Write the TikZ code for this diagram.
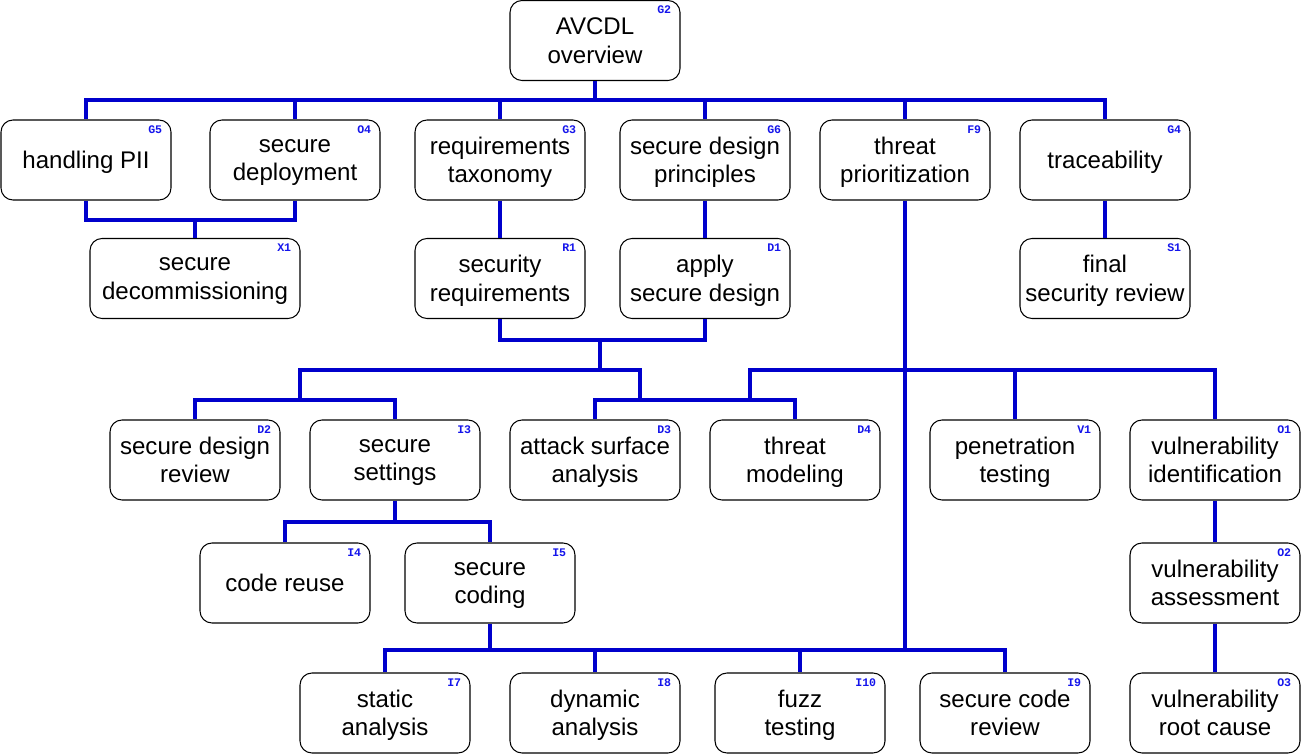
\documentclass[tikz,border=0pt]{standalone}
\usepackage{fontspec}
\setmainfont{Liberation Sans}
\newfontfamily\tagfont{Liberation Mono}
\definecolor{busblue}{RGB}{0,0,204}
\definecolor{tagblue}{RGB}{20,20,235}
\begin{document}
\begin{tikzpicture}[
  box/.style={draw, line width=0.6pt, rounded corners=0.24cm, align=center, minimum width=3.4cm, minimum height=1.6cm, inner sep=0pt, text depth=-1.5pt, font=\fontsize{13.7}{16.2}\selectfont},
  tag/.style={anchor=north east, inner sep=0pt, xshift=-0.18cm, yshift=-0.13cm, text height=4pt, text depth=0pt, text=tagblue, font=\tagfont\bfseries\fontsize{6.6}{7}\selectfont},
  bus/.style={draw=busblue, line width=0.075cm}]
\useasboundingbox (0,0) rectangle (26.02,-15.08);
% top
\node[box, label={[tag]north east:G2}] (overview) at (11.9,-0.81) {AVCDL\\overview};
% row 1
\node[box, label={[tag]north east:G5}] (pii) at (1.72,-3.2) {handling PII};
\node[box, label={[tag]north east:O4}] (deploy) at (5.9,-3.2) {secure\\deployment};
\node[box, label={[tag]north east:G3}] (reqtax) at (10.0,-3.2) {requirements\\taxonomy};
\node[box, label={[tag]north east:G6}] (principles) at (14.1,-3.2) {secure design\\principles};
\node[box, label={[tag]north east:F9}] (threatprio) at (18.1,-3.2) {threat\\prioritization};
\node[box, label={[tag]north east:G4}] (trace) at (22.1,-3.2) {traceability};
% row 2
\node[box, minimum width=4.2cm, label={[tag]north east:X1}] (decom) at (3.9,-5.57) {secure\\decommissioning};
\node[box, label={[tag]north east:R1}] (secreq) at (10.0,-5.57) {security\\requirements};
\node[box, label={[tag]north east:D1}] (applydes) at (14.1,-5.57) {apply\\secure design};
\node[box, label={[tag]north east:S1}] (finalrev) at (22.1,-5.57) {final\\security review};
% row 3
\node[box, label={[tag]north east:D2}] (desrev) at (3.9,-9.2) {secure design\\review};
\node[box, label={[tag]north east:I3}] (settings) at (7.9,-9.2) {secure\\settings};
\node[box, label={[tag]north east:D3}] (attack) at (11.9,-9.2) {attack surface\\analysis};
\node[box, label={[tag]north east:D4}] (threatmod) at (15.9,-9.2) {threat\\modeling};
\node[box, label={[tag]north east:V1}] (pentest) at (20.3,-9.2) {penetration\\testing};
\node[box, label={[tag]north east:O1}] (vulnid) at (24.3,-9.2) {vulnerability\\identification};
% row 4
\node[box, label={[tag]north east:I4}] (reuse) at (5.7,-11.66) {code reuse};
\node[box, label={[tag]north east:I5}] (coding) at (9.8,-11.66) {secure\\coding};
\node[box, label={[tag]north east:O2}] (vulnassess) at (24.3,-11.66) {vulnerability\\assessment};
% row 5
\node[box, label={[tag]north east:I7}] (static) at (7.7,-14.26) {static\\analysis};
\node[box, label={[tag]north east:I8}] (dynamic) at (11.9,-14.26) {dynamic\\analysis};
\node[box, label={[tag]north east:I10}] (fuzz) at (16.0,-14.26) {fuzz\\testing};
\node[box, label={[tag]north east:I9}] (codereview) at (20.1,-14.26) {secure code\\review};
\node[box, label={[tag]north east:O3}] (rootcause) at (24.3,-14.26) {vulnerability\\root cause};
% junctions
\coordinate (jtop) at (11.9,-2.0);
\coordinate (jdecom) at (3.9,-4.4);
\coordinate (jreq) at (12.0,-6.8);
\coordinate (jsplit) at (12.0,-7.4);
\coordinate (jleft) at (6.0,-8.0);
\coordinate (jmid) at (12.8,-8.0);
\coordinate (jthreat) at (18.1,-7.4);
\coordinate (jmodel) at (15.0,-8.0);
\coordinate (jbottom) at (18.1,-13.0);
\coordinate (jcoding) at (9.8,-13.0);
\coordinate (jsettings) at (7.9,-10.44);
% connectors
\draw[bus] (overview) -- (jtop);
\foreach \n in {pii,deploy,reqtax,principles,threatprio,trace}
  \draw[bus] (jtop) -| (\n.north);
\draw[bus] (pii.south) |- (jdecom);
\draw[bus] (deploy.south) |- (jdecom) -- (decom.north);
\draw[bus] (reqtax) -- (secreq);
\draw[bus] (principles) -- (applydes);
\draw[bus] (trace) -- (finalrev);
\draw[bus] (secreq.south) |- (jreq);
\draw[bus] (applydes.south) |- (jreq) -- (jsplit);
\draw[bus] (jsplit) -| (jleft);
\draw[bus] (jsplit) -| (jmid);
\foreach \n in {desrev,settings}
  \draw[bus] (jleft) -| (\n.north);
\foreach \n in {attack,threatmod}
  \draw[bus] (jmid) -| (\n.north);
\draw[bus] (threatprio.south) -- (jthreat) -- (jbottom);
\draw[bus] (jthreat) -| (jmodel);
\foreach \n in {pentest,vulnid}
  \draw[bus] (jthreat) -| (\n.north);
\draw[bus] (settings.south) -- (jsettings);
\foreach \n in {reuse,coding}
  \draw[bus] (jsettings) -| (\n.north);
\draw[bus] (coding.south) -- (jcoding);
\foreach \n in {static,dynamic,fuzz,codereview}
  \draw[bus] (jcoding) -| (\n.north);
\draw[bus] (vulnid) -- (vulnassess);
\draw[bus] (vulnassess) -- (rootcause);
\end{tikzpicture}
\end{document}
